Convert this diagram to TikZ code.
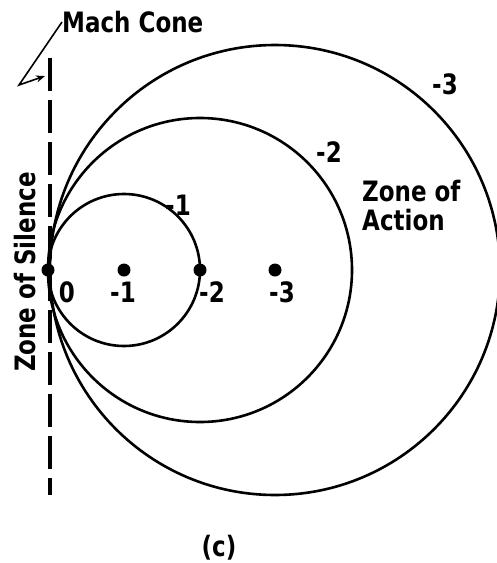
\documentclass[tikz,border=0pt]{standalone}
\usepackage{fontspec}
\setmainfont{DejaVu Sans}
\usetikzlibrary{arrows.meta}
\newcommand{\tall}[1]{\scalebox{1}[1.22]{#1}}
\begin{document}
\begin{tikzpicture}[x=1pt,y=-1pt,
  wave/.style={line width=2.6pt},
  dot/.style={circle,fill=black,inner sep=0pt,minimum size=13pt},
  lbl/.style={font=\fontsize{23}{26}\selectfont\bfseries,inner sep=0pt},
  cone/.style={line width=4.5pt,dash pattern=on 33pt off 9pt},
  leader/.style={line width=1.6pt}]
\useasboundingbox (0,0) rectangle (496,563);
% circles
\draw[wave] (275,270) circle (225);
\draw[wave] (200,270) circle (152);
\draw[wave] (124,270) circle (76);
% Mach cone
\coordinate (ctop) at (50,58);
\coordinate (cbot) at (50,495);
\draw[cone] (ctop) -- (cbot);
% dots
\node[dot] (p0) at (48,270) {};
\node[dot] (p1) at (124,270) {};
\node[dot] (p2) at (200,270) {};
\node[dot] (p3) at (275,270) {};
% point labels
\node[lbl] (l0) at (67,292) {\tall{0}};
\node[lbl] (l1) at (123,292) {\tall{-1}};
\node[lbl] (l2) at (212,292) {\tall{-2}};
\node[lbl] (l3) at (282,292) {\tall{-3}};
% circle labels
\node[lbl] (c1) at (178,205) {\tall{-1}};
\node[lbl] (c2) at (329,152) {\tall{-2}};
\node[lbl] (c3) at (445,84) {\tall{-3}};
\node[lbl,anchor=west] (za1) at (362,191) {\tall{Zone of}};
\node[lbl,anchor=west] (za2) at (362,220) {\tall{Action}};
\node[lbl,rotate=90] (zs) at (25,272) {\tall{Zone of Silence}};
\node[lbl,anchor=west] (mc) at (62,22) {\tall{Mach Cone}};
\node[lbl] (cap) at (219,548) {\tall{(c)}};
% leader
\coordinate (k) at (19,85);
\coordinate (tip) at (45,76);
\draw[leader,-{Stealth[length=9pt,width=7pt]}] (mc.west) -- (k) -- (tip);
\end{tikzpicture}
\end{document}
